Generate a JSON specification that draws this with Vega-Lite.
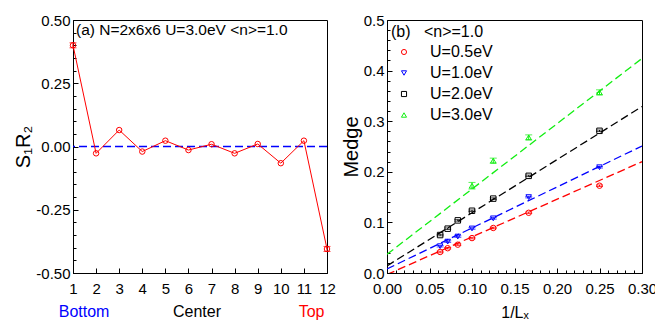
{
  "$schema": "https://vega.github.io/schema/vega-lite/v6.json",
  "padding": {"left": 13, "top": 12, "right": 0, "bottom": 0},
  "background": "white",
  "config": {
    "font": "Liberation Sans",
    "locale": {"number": {"decimal": ".", "thousands": ",", "grouping": [3], "currency": ["$", ""], "minus": "-"}},
    "view": {"stroke": "black", "strokeWidth": 1},
    "axis": {"domainColor": "black", "tickColor": "black", "labelColor": "black", "labelFontSize": 15, "titleColor": "black", "titleFontWeight": "normal", "grid": false, "labelFont": "Liberation Sans", "titleFont": "Liberation Sans"},
    "concat": {"spacing": 4}
  },
  "hconcat": [
    {
      "width": 254,
      "height": 253,
      "data": {"values": [
        {"site": 1, "S": 0.40},
        {"site": 2, "S": -0.027},
        {"site": 3, "S": 0.065},
        {"site": 4, "S": -0.02},
        {"site": 5, "S": 0.023},
        {"site": 6, "S": -0.014},
        {"site": 7, "S": 0.009},
        {"site": 8, "S": -0.027},
        {"site": 9, "S": 0.01},
        {"site": 10, "S": -0.066},
        {"site": 11, "S": 0.023},
        {"site": 12, "S": -0.405}
      ]},
      "layer": [
        {
          "data": {"values": [{}]},
          "mark": {"type": "rule", "color": "#0000ff", "strokeDash": [8, 4], "strokeWidth": 1.5},
          "encoding": {"y": {"datum": 0, "type": "quantitative", "axis": null}}
        },
        {
          "mark": {"type": "line", "color": "#ff0000", "strokeWidth": 1},
          "encoding": {
            "x": {"field": "site", "type": "quantitative", "scale": {"domain": [1, 12], "nice": false, "zero": false},
                  "axis": {"values": [1,2,3,4,5,6,7,8,9,10,11,12], "format": "d", "tickSize": -5, "labelPadding": 13, "title": null, "labelFlush": false, "labelOverlap": false}},
            "y": {"field": "S", "type": "quantitative", "scale": {"domain": [-0.5, 0.5], "nice": false, "zero": false},
                  "axis": {"values": [-0.5, -0.25, 0, 0.25, 0.5], "format": ".2f", "tickSize": -5, "labelPadding": 8, "title": "S₁R₂", "titleFontSize": 20, "titlePadding": 2, "labelFlush": false, "labelOverlap": false}}
          }
        },
        {
          "data": {"values": [{"site": 1, "lo": 0.39, "hi": 0.41}, {"site": 12, "lo": -0.415, "hi": -0.395}]},
          "mark": {"type": "errorbar", "color": "#ff0000", "ticks": {"size": 7}},
          "encoding": {
            "x": {"field": "site", "type": "quantitative", "axis": null},
            "y": {"field": "lo", "type": "quantitative", "axis": null},
            "y2": {"field": "hi"}
          }
        },
        {
          "mark": {"type": "point", "shape": "circle", "filled": false, "color": "#ff0000", "size": 30, "strokeWidth": 1, "opacity": 1},
          "encoding": {
            "x": {"field": "site", "type": "quantitative", "axis": null},
            "y": {"field": "S", "type": "quantitative",
                  "axis": {"orient": "left", "values": [-0.45,-0.4,-0.35,-0.3,-0.2,-0.15,-0.1,-0.05,0.05,0.1,0.15,0.2,0.3,0.35,0.4,0.45], "labels": false, "domain": false, "tickSize": -3, "title": null}}
          }
        },
        {
          "data": {"values": [{}]},
          "mark": {"type": "text", "align": "left", "baseline": "top", "dx": 3, "dy": 3, "fontSize": 15.5, "text": "(a) N=2x6x6 U=3.0eV <n>=1.0", "color": "black"},
          "encoding": {"x": {"datum": 1, "type": "quantitative", "axis": null}, "y": {"datum": 0.5, "type": "quantitative", "axis": null}}
        },
        {
          "data": {"values": [{}]},
          "mark": {"type": "text", "align": "center", "baseline": "middle", "dy": 39, "fontSize": 16, "text": "Bottom", "color": "#0000ff"},
          "encoding": {"x": {"datum": 1.48, "type": "quantitative", "axis": null}, "y": {"datum": -0.5, "type": "quantitative", "axis": null}}
        },
        {
          "data": {"values": [{}]},
          "mark": {"type": "text", "align": "center", "baseline": "middle", "dy": 39, "fontSize": 16, "text": "Center", "color": "black"},
          "encoding": {"x": {"datum": 6.37, "type": "quantitative", "axis": null}, "y": {"datum": -0.5, "type": "quantitative", "axis": null}}
        },
        {
          "data": {"values": [{}]},
          "mark": {"type": "text", "align": "center", "baseline": "middle", "dy": 39, "fontSize": 16, "text": "Top", "color": "#ff0000"},
          "encoding": {"x": {"datum": 11.33, "type": "quantitative", "axis": null}, "y": {"datum": -0.5, "type": "quantitative", "axis": null}}
        }
      ],
      "resolve": {"axis": {"x": "independent", "y": "independent"}}
    },
    {
      "width": 255,
      "height": 253,
      "layer": [
        {
          "data": {"values": [
            {"U": "U=0.5eV", "x": 0, "y": -0.003}, {"U": "U=0.5eV", "x": 0.3, "y": 0.220},
            {"U": "U=1.0eV", "x": 0, "y": 0.008}, {"U": "U=1.0eV", "x": 0.3, "y": 0.251},
            {"U": "U=2.0eV", "x": 0, "y": 0.014}, {"U": "U=2.0eV", "x": 0.3, "y": 0.329},
            {"U": "U=3.0eV", "x": 0, "y": 0.037}, {"U": "U=3.0eV", "x": 0.3, "y": 0.424}
          ]},
          "mark": {"type": "line", "strokeDash": [8, 4], "strokeWidth": 1.3, "clip": true},
          "encoding": {
            "x": {"field": "x", "type": "quantitative", "scale": {"domain": [0, 0.3], "nice": false},
                  "axis": {"values": [0, 0.05, 0.1, 0.15, 0.2, 0.25, 0.3], "format": ".2f", "tickSize": -5, "labelPadding": 13, "title": "1/Lₓ", "titleFontSize": 16, "titlePadding": 8, "labelFlush": false, "labelOverlap": false}},
            "y": {"field": "y", "type": "quantitative", "scale": {"domain": [0, 0.5], "nice": false},
                  "axis": {"values": [0, 0.1, 0.2, 0.3, 0.4, 0.5], "format": ".1f", "tickSize": -5, "labelPadding": 8, "title": "Medge", "titleFontSize": 20, "titlePadding": 2, "labelFlush": false, "labelOverlap": false}},
            "color": {"field": "U", "type": "nominal", "scale": {"domain": ["U=0.5eV", "U=1.0eV", "U=2.0eV", "U=3.0eV"], "range": ["#ff0000", "#0000ff", "#000000", "#11ee11"]}, "legend": null},
            "detail": {"field": "U"}
          }
        },
        {
          "data": {"name": "pts"},
          "mark": {"type": "errorbar", "ticks": {"size": 7}, "clip": true},
          "encoding": {
            "x": {"field": "invL", "type": "quantitative", "axis": null},
            "y": {"field": "lo", "type": "quantitative", "axis": null},
            "y2": {"field": "hi"},
            "color": {"field": "U", "type": "nominal", "legend": null}
          }
        },
        {
          "data": {"name": "pts"},
          "mark": {"type": "point", "filled": false, "size": 30, "strokeWidth": 1, "opacity": 1},
          "encoding": {
            "x": {"field": "invL", "type": "quantitative",
                  "axis": {"orient": "bottom", "values": [0.01,0.02,0.03,0.04,0.06,0.07,0.08,0.09,0.11,0.12,0.13,0.14,0.16,0.17,0.18,0.19,0.21,0.22,0.23,0.24,0.26,0.27,0.28,0.29], "labels": false, "domain": false, "tickSize": -3, "title": null}},
            "y": {"field": "M", "type": "quantitative",
                  "axis": {"orient": "left", "values": [0.02,0.04,0.06,0.08,0.12,0.14,0.16,0.18,0.22,0.24,0.26,0.28,0.32,0.34,0.36,0.38,0.42,0.44,0.46,0.48], "labels": false, "domain": false, "tickSize": -3, "title": null}},
            "color": {"field": "U", "type": "nominal",
                      "legend": {"title": "(b)\u00a0\u00a0\u00a0<n>=1.0", "orient": "top-left", "offset": 4, "padding": 0, "titleFontSize": 16, "titleFontWeight": "normal", "titleColor": "black", "titlePadding": 4, "labelFontSize": 16, "labelColor": "black", "labelOffset": 18, "symbolOffset": 5, "symbolSize": 26, "symbolStrokeWidth": 1, "rowPadding": 5}},
            "shape": {"field": "U", "type": "nominal", "scale": {"domain": ["U=0.5eV", "U=1.0eV", "U=2.0eV", "U=3.0eV"], "range": ["circle", "triangle-down", "square", "triangle-up"]},
                      "legend": {"title": "(b)\u00a0\u00a0\u00a0<n>=1.0", "orient": "top-left", "offset": 4, "padding": 0, "titleFontSize": 16, "titleFontWeight": "normal", "titleColor": "black", "titlePadding": 4, "labelFontSize": 16, "labelColor": "black", "labelOffset": 18, "symbolOffset": 5, "symbolSize": 26, "symbolStrokeWidth": 1, "rowPadding": 5}}
          }
        }
      ],
      "resolve": {"axis": {"x": "independent", "y": "independent"}, "legend": {"color": "independent", "shape": "independent"}}
    }
  ],
  "datasets": {
    "pts": [
      {"U": "U=0.5eV", "invL": 0.0625, "M": 0.0415, "lo": 0.040, "hi": 0.043},
      {"U": "U=0.5eV", "invL": 0.0714, "M": 0.049, "lo": 0.0475, "hi": 0.0505},
      {"U": "U=0.5eV", "invL": 0.0833, "M": 0.056, "lo": 0.0545, "hi": 0.0575},
      {"U": "U=0.5eV", "invL": 0.1, "M": 0.069, "lo": 0.0675, "hi": 0.0705},
      {"U": "U=0.5eV", "invL": 0.125, "M": 0.089, "lo": 0.0875, "hi": 0.0905},
      {"U": "U=0.5eV", "invL": 0.1667, "M": 0.119, "lo": 0.1175, "hi": 0.1205},
      {"U": "U=0.5eV", "invL": 0.25, "M": 0.1725, "lo": 0.171, "hi": 0.174},
      {"U": "U=1.0eV", "invL": 0.0625, "M": 0.053, "lo": 0.0515, "hi": 0.0545},
      {"U": "U=1.0eV", "invL": 0.0714, "M": 0.062, "lo": 0.0605, "hi": 0.0635},
      {"U": "U=1.0eV", "invL": 0.0833, "M": 0.072, "lo": 0.0705, "hi": 0.0735},
      {"U": "U=1.0eV", "invL": 0.1, "M": 0.088, "lo": 0.0865, "hi": 0.0895},
      {"U": "U=1.0eV", "invL": 0.125, "M": 0.108, "lo": 0.1065, "hi": 0.1095},
      {"U": "U=1.0eV", "invL": 0.1667, "M": 0.150, "lo": 0.1485, "hi": 0.1515},
      {"U": "U=1.0eV", "invL": 0.25, "M": 0.209, "lo": 0.2075, "hi": 0.2105},
      {"U": "U=2.0eV", "invL": 0.0625, "M": 0.075, "lo": 0.0735, "hi": 0.0765},
      {"U": "U=2.0eV", "invL": 0.0714, "M": 0.0876, "lo": 0.086, "hi": 0.089},
      {"U": "U=2.0eV", "invL": 0.0833, "M": 0.104, "lo": 0.1025, "hi": 0.1055},
      {"U": "U=2.0eV", "invL": 0.1, "M": 0.123, "lo": 0.1215, "hi": 0.1245},
      {"U": "U=2.0eV", "invL": 0.125, "M": 0.147, "lo": 0.1455, "hi": 0.1485},
      {"U": "U=2.0eV", "invL": 0.1667, "M": 0.192, "lo": 0.1905, "hi": 0.1935},
      {"U": "U=2.0eV", "invL": 0.25, "M": 0.281, "lo": 0.2795, "hi": 0.2825},
      {"U": "U=3.0eV", "invL": 0.1, "M": 0.1725, "lo": 0.166, "hi": 0.179},
      {"U": "U=3.0eV", "invL": 0.125, "M": 0.222, "lo": 0.217, "hi": 0.227},
      {"U": "U=3.0eV", "invL": 0.1667, "M": 0.268, "lo": 0.263, "hi": 0.273},
      {"U": "U=3.0eV", "invL": 0.25, "M": 0.357, "lo": 0.352, "hi": 0.362}
    ]
  }
}
